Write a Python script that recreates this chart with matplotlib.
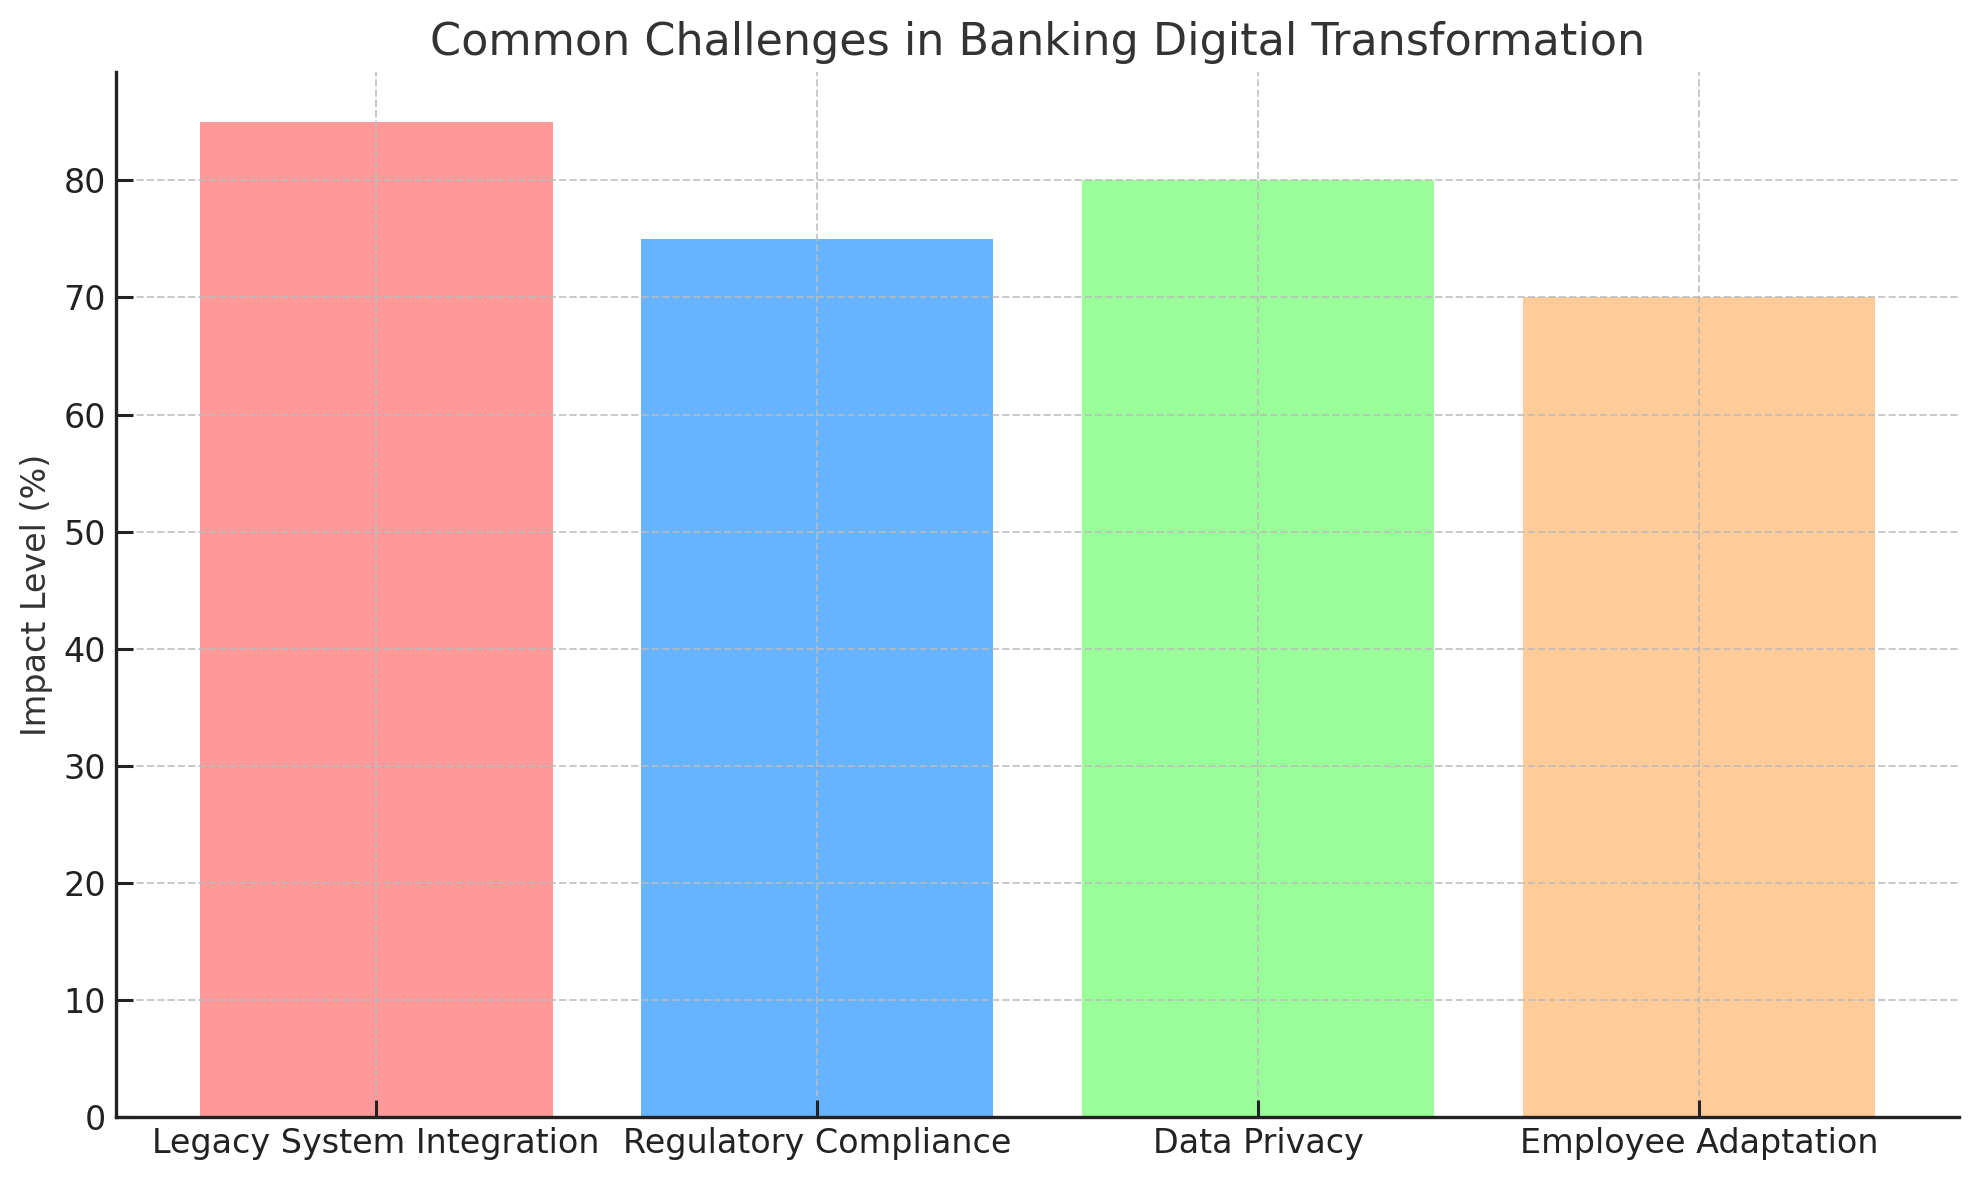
import numpy as np
import matplotlib.pyplot as plt

# Data
challenges = ['Legacy System Integration', 'Regulatory Compliance', 'Data Privacy', 'Employee Adaptation']
impact = [85, 75, 80, 70]
colors = ['#ff9999', '#66b3ff', '#99ff99', '#ffcc99']

plt.rcParams['text.color'] = '#333333'
plt.rcParams['axes.labelcolor'] = '#333333'

fig, ax = plt.subplots(figsize=(9.895, 5.9), dpi=200)
fig.subplots_adjust(left=0.0586, right=0.990, top=0.939, bottom=0.053)

ax.bar(challenges, impact, color=colors)

ax.set_title('Common Challenges in Banking Digital Transformation', fontsize=16, color='#333333')
ax.set_ylabel('Impact Level (%)', fontsize=12)
ax.tick_params(axis='both', direction='in', labelsize=12, length=6, width=1.1, colors='#222222')
ax.set_axisbelow(False)
ax.grid(True, linestyle='--', color='#bbbbbb', linewidth=0.7, alpha=0.8)

ax.spines['top'].set_visible(False)
ax.spines['right'].set_visible(False)
for s in ['left', 'bottom']:
    ax.spines[s].set_linewidth(1.2)
    ax.spines[s].set_color('#222222')
    ax.spines[s].set_zorder(5)

plt.savefig('out.png', dpi=200)
